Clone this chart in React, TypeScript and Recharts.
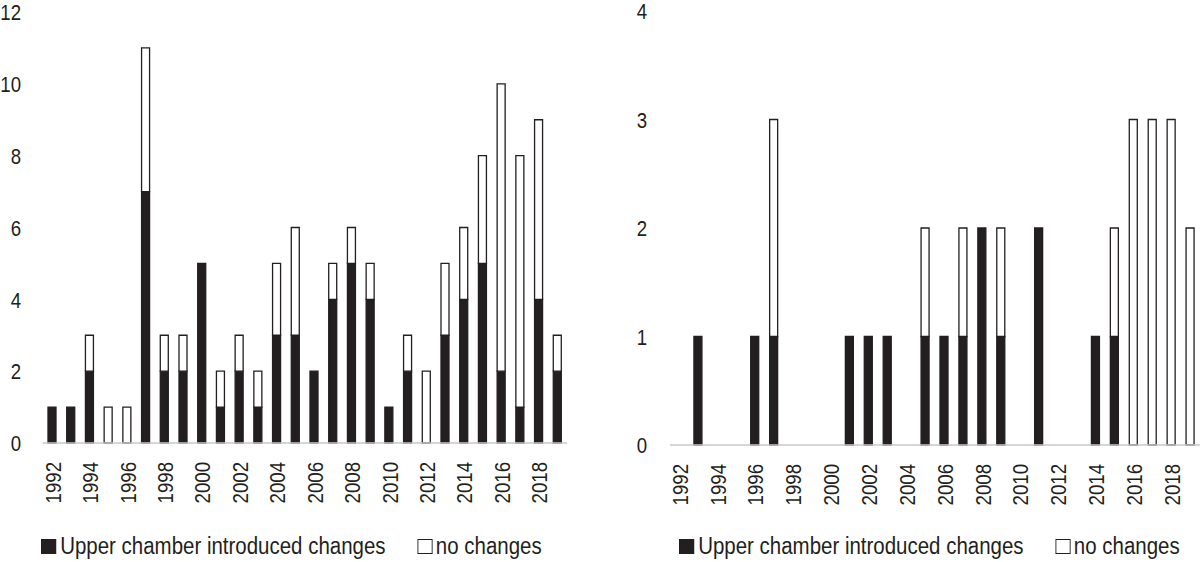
import React from 'react';
import { BarChart, Bar, XAxis, YAxis, Legend } from 'recharts';

const years = [
    '1992', '1993', '1994', '1995', '1996', '1997', '1998', '1999', '2000', '2001',
    '2002', '2003', '2004', '2005', '2006', '2007', '2008', '2009', '2010', '2011',
    '2012', '2013', '2014', '2015', '2016', '2017', '2018', '2019',
];

// left panel
const leftChanged = [1, 1, 2, 0, 0, 7, 2, 2, 5, 1, 2, 1, 3, 3, 2, 4, 5, 4, 1, 2, 0, 3, 4, 5, 2, 1, 4, 2];
const leftNoChange = [0, 0, 1, 1, 1, 4, 1, 1, 0, 1, 1, 1, 2, 3, 0, 1, 1, 1, 0, 1, 2, 2, 2, 3, 8, 7, 5, 1];
const leftTicks = [0, 2, 4, 6, 8, 10, 12];

// right panel
const rightChanged = [0, 1, 0, 0, 1, 1, 0, 0, 0, 1, 1, 1, 0, 1, 1, 1, 2, 1, 0, 2, 0, 0, 1, 1, 0, 0, 0, 0];
const rightNoChange = [0, 0, 0, 0, 0, 2, 0, 0, 0, 0, 0, 0, 0, 1, 0, 1, 0, 1, 0, 0, 0, 0, 0, 1, 3, 3, 3, 2];
const rightTicks = [0, 1, 2, 3, 4];

const seriesNames = ['Upper chamber introduced changes', 'no changes'];

const INK = '#231f20';
const FONT = '"Liberation Sans", Arial, sans-serif';
// no narrow face installed, so squeeze the regular one
const TICK_SQUEEZE = 0.81;
const LEGEND_SQUEEZE = 0.89;

const toRows = (changed: number[], noChange: number[]) =>
    years.map((year, i) => ({ year, changed: changed[i], noChange: noChange[i] }));

const leftData = toRows(leftChanged, leftNoChange);
const rightData = toRows(rightChanged, rightNoChange);

function YearTick({ x, y, payload }: any) {
    return (
        <text
            x={0}
            y={0}
            dy="0.36em"
            transform={`translate(${x}, ${y}) rotate(-90) scale(${TICK_SQUEEZE}, 1)`}
            textAnchor="end"
            fontSize={23}
            fill={INK}
        >
            {payload.value}
        </text>
    );
}

function ValueTick({ x, y, payload }: any) {
    return (
        <text
            x={0}
            y={0}
            dy="0.36em"
            transform={`translate(${x}, ${y}) scale(${TICK_SQUEEZE}, 1)`}
            textAnchor="end"
            fontSize={23}
            fill={INK}
        >
            {payload.value}
        </text>
    );
}

function LegendContent({ payload }: any) {
    return (
        <div
            style={{
                display: 'flex',
                alignItems: 'center',
                whiteSpace: 'nowrap',
                fontSize: 23,
                lineHeight: '28px',
                color: INK,
                transform: `scaleX(${LEGEND_SQUEEZE})`,
                transformOrigin: 'left top',
            }}
        >
            {(payload || []).map((entry: any, i: number) => (
                <div key={i} style={{ display: 'flex', alignItems: 'center', marginRight: i === 0 ? 36 : 0 }}>
                    <span
                        style={{
                            display: 'inline-block',
                            boxSizing: 'border-box',
                            width: 16.5,
                            height: 15,
                            background: entry.color,
                            border: `1.5px solid ${INK}`,
                            marginRight: i === 0 ? 5 : 4,
                        }}
                    />
                    <span>{entry.value}</span>
                </div>
            ))}
        </div>
    );
}

interface PanelProps {
    data: { year: string; changed: number; noChange: number }[];
    ticks: number[];
    margin: { top: number; right: number; bottom: number; left: number };
    yWidth: number;
    labelRight: number;
    legendLeft: number;
}

function Panel({ data, ticks, margin, yWidth, labelRight, legendLeft }: PanelProps) {
    return (
        <BarChart width={600} height={562} data={data} margin={margin} barCategoryGap={0}>
            <XAxis
                dataKey="year"
                interval={1}
                height={60}
                tickLine={false}
                tickMargin={13}
                axisLine={{ stroke: '#c8c8c8', strokeWidth: 1.5 }}
                tick={<YearTick />}
            />
            <YAxis
                width={yWidth}
                domain={[0, ticks[ticks.length - 1]]}
                ticks={ticks}
                axisLine={false}
                tickLine={false}
                tickMargin={yWidth - 6 - labelRight}
                tick={<ValueTick />}
            />
            <Legend
                layout="horizontal"
                verticalAlign="middle"
                align="center"
                content={<LegendContent />}
                wrapperStyle={{ left: legendLeft, top: 532, width: 560 }}
            />
            <Bar
                dataKey="changed"
                name={seriesNames[0]}
                stackId="a"
                fill={INK}
                stroke={INK}
                strokeWidth={1.3}
                barSize={8}
                isAnimationActive={false}
            />
            <Bar
                dataKey="noChange"
                name={seriesNames[1]}
                stackId="a"
                fill="#ffffff"
                stroke={INK}
                strokeWidth={1.3}
                barSize={8}
                isAnimationActive={false}
            />
        </BarChart>
    );
}

export default function App() {
    return (
        <div
            style={{
                position: 'absolute',
                left: 0,
                top: 0,
                width: 1200,
                height: 562,
                background: '#ffffff',
                fontFamily: FONT,
            }}
        >
            <div style={{ position: 'absolute', left: 0, top: 0 }}>
                <Panel
                    data={leftData}
                    ticks={leftTicks}
                    margin={{ top: 12, right: 33, bottom: 59, left: 0 }}
                    yWidth={43}
                    labelRight={21}
                    legendLeft={41}
                />
            </div>
            <div style={{ position: 'absolute', left: 600, top: 0 }}>
                <Panel
                    data={rightData}
                    ticks={rightTicks}
                    margin={{ top: 11, right: 0, bottom: 57, left: 0 }}
                    yWidth={70}
                    labelRight={47}
                    legendLeft={79}
                />
            </div>
        </div>
    );
}
